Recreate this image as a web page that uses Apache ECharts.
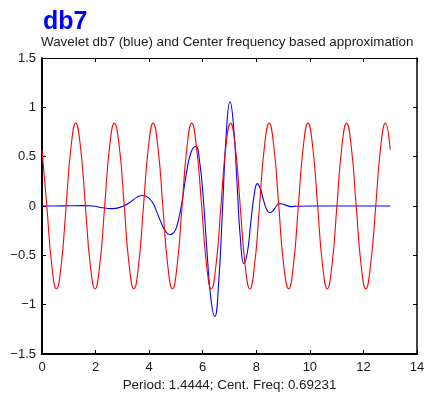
<!DOCTYPE html>
<html>
<head>
<meta charset="utf-8">
<script src="https://cdn.jsdelivr.net/npm/echarts@6/dist/echarts.min.js"></script>
<style>
html,body{margin:0;padding:0;background:#fff;}
#chart{width:433px;height:398px;}
</style>
</head>
<body>
<div id="chart"></div>
<script>
// Data
var titleText = 'db7';
var subtitleText = 'Wavelet db7 (blue) and Center frequency based approximation';
var xLabelText = 'Period: 1.4444; Cent. Freq: 0.69231';
var xTicks = [0, 2, 4, 6, 8, 10, 12, 14];
var yTicks = [-1.5, -1, -0.5, 0, 0.5, 1, 1.5];

// Wavelet db7 (blue)
var blueX = [0, 0.5, 1.0, 1.5, 1.9, 2.2, 2.6, 3.0, 3.3, 3.55,
  3.77, 3.95, 4.14, 4.3, 4.45, 4.6, 4.77, 4.92, 5.04, 5.2,
  5.39, 5.56, 5.74, 5.88, 6.02, 6.17, 6.31, 6.45, 6.59, 6.74,
  6.88, 7.02, 7.15, 7.28, 7.41, 7.54, 7.67, 7.79, 7.92, 8.04,
  8.16, 8.27, 8.38, 8.5, 8.62, 8.75, 8.87, 9.0, 9.15, 9.3,
  9.5, 10, 11, 12, 13];
var blueY = [0, 0, 0.002, 0.004, 0, -0.015, -0.027, -0.005, 0.04, 0.09,
  0.107, 0.09, 0.03, -0.07, -0.17, -0.25, -0.29, -0.27, -0.2, 0,
  0.33, 0.54, 0.605, 0.46, 0.08, -0.5, -0.95, -1.12, -0.8, -0.03,
  0.74, 1.056, 0.815, 0.235, -0.345, -0.585, -0.466, -0.18, 0.108, 0.227,
  0.17, 0.06, -0.03, -0.068, -0.05, 0, 0.024, 0.018, 0.004, -0.006,
  -0.002, 0, 0, 0, 0];

// Center frequency based approximation (red)
var redX = [0.00, 0.18, 0.36, 0.54, 0.72, 0.90, 1.08, 1.26,
  1.44, 1.62, 1.80, 1.98, 2.16, 2.34, 2.52, 2.70,
  2.89, 3.07, 3.25, 3.43, 3.61, 3.79, 3.97, 4.15,
  4.33, 4.51, 4.69, 4.87, 5.05, 5.23, 5.41, 5.59,
  5.77, 5.96, 6.14, 6.32, 6.50, 6.68, 6.86, 7.04,
  7.22, 7.40, 7.58, 7.76, 7.94, 8.12, 8.30, 8.48,
  8.66, 8.84, 9.02, 9.21, 9.39, 9.57, 9.75, 9.93,
  10.11, 10.29, 10.47, 10.65, 10.83, 11.01, 11.19, 11.37,
  11.55, 11.73, 11.91, 12.09, 12.27, 12.46, 12.64, 12.82,
  13.00];
var redY = [0.57, 0, -0.59, -0.84, -0.59, 0, 0.59, 0.84,
  0.59, 0, -0.59, -0.84, -0.59, 0, 0.59, 0.84,
  0.59, 0, -0.59, -0.84, -0.59, 0, 0.59, 0.84,
  0.59, 0, -0.59, -0.84, -0.59, 0, 0.59, 0.84,
  0.59, 0, -0.59, -0.84, -0.59, 0, 0.59, 0.84,
  0.59, 0, -0.59, -0.84, -0.59, 0, 0.59, 0.84,
  0.59, 0, -0.59, -0.84, -0.59, 0, 0.59, 0.84,
  0.59, 0, -0.59, -0.84, -0.59, 0, 0.59, 0.84,
  0.59, 0, -0.59, -0.84, -0.59, 0, 0.59, 0.84,
  0.57];

function pairs(xs, ys) {
  var out = [];
  for (var i = 0; i < xs.length; i++) out.push([xs[i], ys[i]]);
  return out;
}

var FONT = '"Liberation Sans", Arial, Helvetica, sans-serif';
var chart = echarts.init(document.getElementById('chart'), null, {renderer: 'canvas'});

function fmt(v) {
  var s = String(v);
  return s.replace('-', '\u2212');
}

var xMin = xTicks[0], xMax = xTicks[xTicks.length - 1];
var yMin = yTicks[0], yMax = yTicks[yTicks.length - 1];
var xInt = xTicks[1] - xTicks[0], yInt = yTicks[1] - yTicks[0];

var option = {
  animation: false,
  backgroundColor: '#ffffff',
  grid: {left: 42, right: 16, top: 58, bottom: 44, containLabel: false},
  graphic: [
    {type: 'text', left: 43, top: 10, style: {text: titleText, font: 'bold 25px ' + FONT, fill: '#0000ff'}},
    {type: 'text', left: 41, top: 36, style: {text: subtitleText, font: '13.4px ' + FONT, fill: '#1a1a1a'}}
  ],
  xAxis: [
    {type: 'value', min: xMin, max: xMax, interval: xInt, position: 'bottom',
     name: xLabelText, nameLocation: 'middle', nameGap: 24,
     nameTextStyle: {fontFamily: FONT, fontSize: 13.4, color: '#1a1a1a'},
     axisLine: {show: true, onZero: false, lineStyle: {color: '#000', width: 2}},
     axisTick: {show: true, inside: true, length: 4, lineStyle: {color: '#000', width: 1}},
     axisLabel: {margin: 7, fontFamily: FONT, fontSize: 13, color: '#1a1a1a', formatter: fmt},
     splitLine: {show: false}},
    {type: 'value', min: xMin, max: xMax, interval: xInt, position: 'top',
     axisLine: {show: true, onZero: false, lineStyle: {color: '#000', width: 1}},
     axisTick: {show: true, inside: true, length: 4, lineStyle: {color: '#000', width: 1}},
     axisLabel: {show: false}, splitLine: {show: false}}
  ],
  yAxis: [
    {type: 'value', min: yMin, max: yMax, interval: yInt, position: 'left',
     axisLine: {show: true, onZero: false, lineStyle: {color: '#000', width: 2}},
     axisTick: {show: true, inside: true, length: 4, lineStyle: {color: '#000', width: 1}},
     axisLabel: {margin: 6, fontFamily: FONT, fontSize: 13, color: '#1a1a1a', formatter: fmt},
     splitLine: {show: false}},
    {type: 'value', min: yMin, max: yMax, interval: yInt, position: 'right',
     axisLine: {show: true, onZero: false, lineStyle: {color: '#000', width: 1.5}},
     axisTick: {show: true, inside: true, length: 4, lineStyle: {color: '#000', width: 1}},
     axisLabel: {show: false}, splitLine: {show: false}}
  ],
  series: [
    {type: 'line', name: 'db7', data: pairs(blueX, blueY), xAxisIndex: 0, yAxisIndex: 0,
     smooth: 0.5, showSymbol: false, lineStyle: {color: '#0000ff', width: 1.1}, z: 2},
    {type: 'line', name: 'approx', data: pairs(redX, redY), xAxisIndex: 0, yAxisIndex: 0,
     smooth: 0.5, showSymbol: false, lineStyle: {color: '#ff0000', width: 1.1}, z: 3}
  ]
};
chart.setOption(option);
</script>
</body>
</html>
